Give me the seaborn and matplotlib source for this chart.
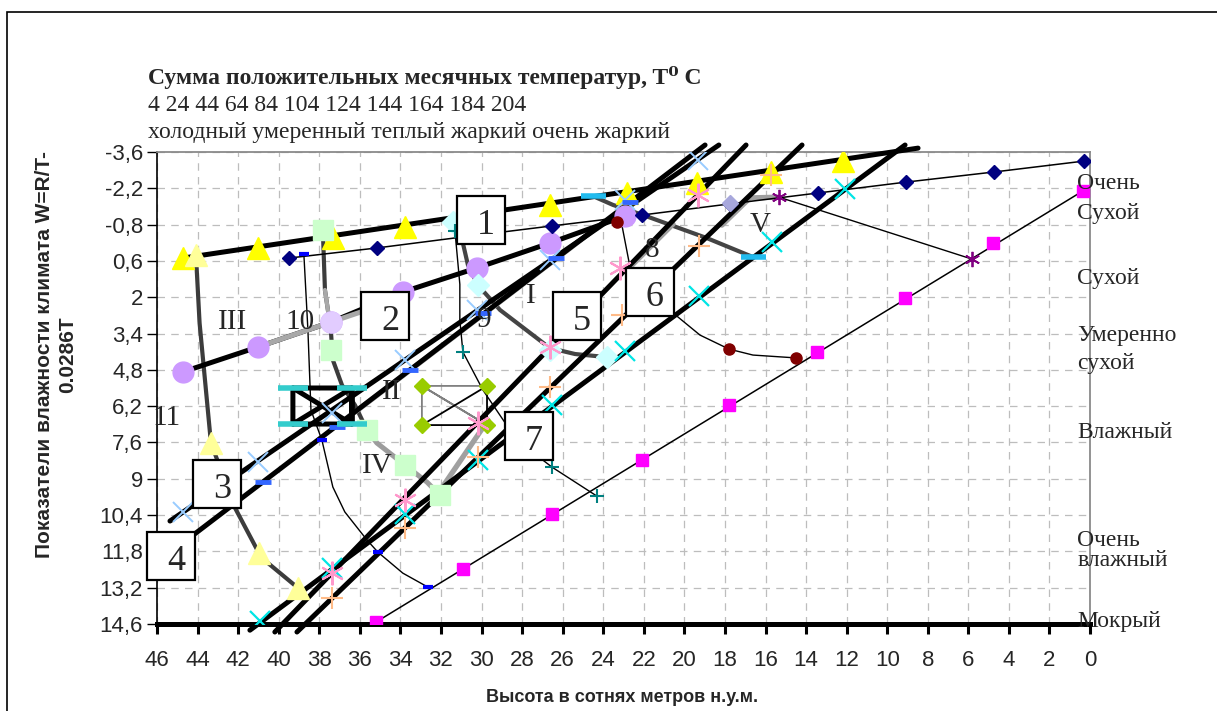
"""Климатическая диаграмма: показатель влажности W против высоты (зоны I-V, 1-11)."""
import matplotlib
matplotlib.use("Agg")
import matplotlib.pyplot as plt
from matplotlib.patches import Rectangle
import seaborn as sns

sns.set_theme(style="white")
plt.rcParams["font.family"] = ["Liberation Sans", "DejaVu Sans"]
SERIF = ["Liberation Serif", "DejaVu Serif"]

# ── Оси и подписи ──
X_TICKS = list(range(46, -1, -2))
Y_TICKS = [-3.6, -2.2, -0.8, 0.6, 2, 3.4, 4.8, 6.2, 7.6, 9, 10.4, 11.8, 13.2, 14.6]
Y_TICK_LABELS = ["-3,6", "-2,2", "-0,8", "0,6", "2", "3,4", "4,8", "6,2",
                 "7,6", "9", "10,4", "11,8", "13,2", "14,6"]
TITLE = "Сумма положительных месячных температур, T\u2070 C"
TEMP_SCALE = "4 24 44 64 84 104 124 144 164 184 204"
HEAT_ZONES = "холодный умеренный теплый жаркий очень жаркий"
XLABEL = "Высота в сотнях метров н.у.м."
YLABEL = "Показатели влажности климата W=R/T-\n0.0286T"

HUMID_LABELS = ["Очень", "Сухой", "Сухой", "Умеренно", "сухой", "Влажный",
                "Очень", "влажный", "Мокрый"]
HUMID_Y = [-2.4, -1.21, 1.26, 3.46, 4.54, 7.2, 11.4, 12.17, 14.49]

BOX_LABELS = ["1", "2", "3", "4", "5", "6", "7"]
BOX_X = [30.03, 34.76, 43.05, 45.32, 25.30, 21.70, 27.66]
BOX_Y = [-0.98, 2.72, 9.20, 11.98, 2.72, 1.80, 7.35]

ZONE_LABELS = ["III", "10", "11", "II", "IV", "I", "9", "8", "V"]
ZONE_X = [42.26, 38.95, 45.51, 34.42, 35.16, 27.56, 29.88, 21.60, 16.27]
ZONE_Y = [2.96, 2.96, 6.66, 5.66, 8.51, 1.95, 2.88, 0.18, -0.78]

# ── Серии ──
# верхняя граница (желтые треугольники)
tri_x = [44.72, 41.03, 37.33, 33.78, 26.63, 22.83, 19.38, 15.73, 12.18]
tri_y = [0.49, 0.10, -0.28, -0.71, -1.56, -2.02, -2.40, -2.83, -3.25]
top_x = [44.72, 8.48]
top_y = [0.49, -3.75]

# кривая III (бледные треугольники)
c3_x = [44.08, 43.90, 43.34, 42.15, 40.98, 40.53, 39.05]
c3_y = [0.37, 3.00, 7.62, 10.13, 11.86, 12.25, 13.21]
pale_tri_x = [44.08, 43.34, 40.98, 39.05]
pale_tri_y = [0.37, 7.62, 11.86, 13.21]

# линия 2 (сиреневые круги)
circ_x = [44.72, 41.03, 37.43, 33.88, 30.23, 26.63, 22.93]
circ_y = [4.88, 3.92, 2.96, 1.80, 0.87, -0.09, -1.13]
circ_pale_x = [41.03, 37.43, 35.50]
circ_pale_y = [3.92, 2.96, 2.45]

# темно-синие ромбы
navy_x = [39.50, 35.16, 30.97, 26.53, 22.09, 17.75, 13.41, 9.07, 4.73, 0.30]
navy_y = [0.49, 0.10, -0.32, -0.75, -1.17, -1.60, -2.02, -2.44, -2.83, -3.25]

# малиновые квадраты
mag_x = [35.21, 30.92, 26.53, 22.09, 17.80, 13.46, 9.12, 4.78, 0.35]
mag_y = [14.53, 12.48, 10.36, 8.28, 6.16, 4.11, 2.03, -0.09, -2.10]
mag_line_x = [36.14, 35.21, 0.35]
mag_line_y = [14.99, 14.53, -2.10]

# толстые диагонали
d1_x, d1_y = [45.36, 18.30], [10.63, -3.87]
d2_x, d2_y = [44.28, 18.98], [11.21, -3.87]
d3_x, d3_y = [41.42, 9.12], [14.84, -3.87]
d4_x, d4_y = [39.10, 14.20], [14.91, -3.87]
d5_x, d5_y = [40.19, 16.96], [14.91, -3.87]

lblue_x = [44.72, 41.03, 37.38, 33.78, 30.23, 26.63, 22.93, 19.33]
lblue_y = [10.28, 8.36, 6.47, 4.42, 2.49, 0.57, -1.75, -3.29]
bdash_x = [40.78, 37.13, 33.53, 29.93, 26.33, 22.68]
bdash_y = [9.13, 7.01, 4.81, 2.61, 0.49, -1.67]
cyanx_x = [40.93, 37.38, 33.78, 30.18, 26.53, 22.93, 19.28, 15.68, 12.08]
cyanx_y = [14.50, 12.45, 10.36, 8.28, 6.17, 4.08, 1.97, -0.12, -2.16]
orange_x = [37.38, 33.78, 30.18, 26.63, 23.08, 19.28, 15.73]
orange_y = [13.60, 10.90, 8.16, 5.46, 2.69, 0.03, -2.71]
pink_x = [37.38, 33.78, 30.18, 26.63, 23.18, 19.33]
pink_y = [12.64, 9.82, 6.85, 3.92, 0.87, -1.94]

# кривая I (светло-голубые ромбы)
c1_x = [30.92, 30.67, 30.18, 29.09, 26.63, 25.39, 23.82]
c1_y = [-0.09, 0.76, 1.53, 2.49, 3.96, 4.19, 4.31]
lcyan_x = [31.41, 30.18, 26.63, 23.82]
lcyan_y = [-0.90, 1.53, 4.04, 4.31]

# кривая 8 / V
c2_x = [24.51, 23.52, 22.04, 18.89, 16.62]
c2_y = [-1.90, -1.56, -1.17, -0.28, 0.45]
sky_x = [24.51, 16.62]
sky_y = [-1.90, 0.45]

# кривая 10 и IV (светло-зеленые квадраты)
c10_x = [37.82, 37.72, 37.43, 37.33, 36.88, 36.24, 35.65]
c10_y = [-0.51, 1.72, 3.26, 4.42, 5.39, 6.16, 7.12]
c10_pale_x = [37.72, 37.43]
c10_pale_y = [1.72, 3.26]
c4_x = [35.65, 35.16, 33.78, 32.69, 32.05]
c4_y = [7.12, 7.62, 8.47, 9.13, 9.63]
gsq_x = [37.82, 37.43, 35.65, 33.78, 32.05]
gsq_y = [-0.59, 4.04, 7.12, 8.47, 9.63]

# серые пунктирные границы
g1_x, g1_y = [36.24, 24.65], [6.43, -0.48]
g2_x, g2_y = [22.68, 20.56], [0.84, -0.82]
g3_x, g3_y = [18.15, 16.77, 15.34], [-0.78, -1.83, -1.86]
g4_x, g4_y = [32.20, 29.68], [9.63, 6.74]

# прямоугольник с желто-зелеными ромбами
gd_x = [32.94, 29.73, 32.94, 29.73]
gd_y = [5.42, 5.42, 6.93, 6.93]
gd_gray_x = [29.73, 32.94, 29.73, 32.94, 32.94]
gd_gray_y = [5.42, 5.42, 6.93, 5.42, 6.93]
gd_black_x = [32.94, 29.73, 29.73, 32.94]
gd_black_y = [6.93, 5.42, 6.93, 6.93]

# кривая 9
c9_x = [31.31, 31.07, 31.07, 30.92, 29.93, 28.60, 27.61, 26.53, 24.31]
c9_y = [-0.55, 1.50, 2.88, 4.11, 5.58, 7.12, 7.90, 8.55, 9.67]
teal_x = [31.31, 30.92, 26.53, 24.31]
teal_y = [-0.55, 4.11, 8.55, 9.67]

# тонкая кривая 10
c10t_x = [38.76, 38.56, 38.41, 37.87, 37.33, 36.74, 35.65, 35.11, 33.88, 32.64]
c10t_y = [0.33, 3.26, 6.35, 7.51, 9.32, 10.28, 11.36, 11.83, 12.64, 13.18]
blue_x = [38.76, 37.87, 35.11, 32.64]
blue_y = [0.33, 7.51, 11.83, 13.18]

# темно-красные круги
red_x = [23.32, 23.08, 22.68, 20.32, 19.23, 17.80, 16.62, 14.50]
red_y = [-0.90, -0.78, 0.84, 2.76, 3.46, 4.00, 4.23, 4.34]
redc_x = [23.32, 17.80, 14.50]
redc_y = [-0.90, 4.00, 4.34]

# фиолетовые звездочки
past_x, past_y = [15.34, 5.82], [-1.86, 0.53]
lav_x, lav_y = [17.75], [-1.63]

# прямоугольник с крестом
xb_x = [39.30, 36.39, 36.39, 39.30, 39.30, 36.39, 36.39, 39.30]
xb_y = [5.50, 5.50, 6.89, 6.89, 5.50, 6.89, 5.50, 6.89]
xb_dash_x = [39.30, 36.39, 39.30, 36.39]
xb_dash_y = [5.50, 5.50, 6.89, 6.89]

fig = plt.figure(figsize=(12.17, 7.11), dpi=100)
ax = fig.add_axes([0.1290, 0.1224, 0.7667, 0.6638])


def draw(xs, ys, **kw):
    sns.lineplot(x=xs, y=ys, sort=False, estimator=None, ax=ax, legend=False, **kw)


def dots(xs, ys, marker, size, color, edge=None, mew=1.0, z=6):
    draw(xs, ys, ls="none", marker=marker, ms=size, mfc=color,
         mec=edge or color, mew=mew, zorder=z)


BLACK_W = 3.6
# серые и темно-серые кривые
draw(c3_x, c3_y, color="#3c3c3c", lw=3.0, zorder=2)
draw(c1_x, c1_y, color="#444444", lw=3.0, zorder=2)
draw(c2_x, c2_y, color="#444444", lw=3.0, zorder=2)
draw(c10_x, c10_y, color="#3c3c3c", lw=3.0, zorder=2)
draw(c10_pale_x, c10_pale_y, color="#a8a8a8", lw=3.0, zorder=2)
draw(c4_x, c4_y, color="#9c9c9c", lw=3.6, zorder=2)
for gx, gy in [(g1_x, g1_y), (g2_x, g2_y), (g3_x, g3_y), (g4_x, g4_y)]:
    draw(gx, gy, color="#a0a0a0", lw=3.8, zorder=2)

# тонкие линии
draw(navy_x, navy_y, color="black", lw=1.1, zorder=3)
draw(mag_line_x, mag_line_y, color="black", lw=1.1, zorder=3)
draw(c9_x, c9_y, color="black", lw=1.0, zorder=3)
draw(c10t_x, c10t_y, color="black", lw=1.0, zorder=3)
draw(red_x, red_y, color="black", lw=1.0, zorder=3)
draw(past_x, past_y, color="black", lw=1.0, zorder=3)
draw(gd_gray_x, gd_gray_y, color="#808080", lw=1.3, zorder=3)
draw(gd_black_x, gd_black_y, color="black", lw=1.3, zorder=3)

# толстые черные линии
draw(top_x, top_y, color="black", lw=BLACK_W, zorder=4, clip_on=False)
draw(circ_x, circ_y, color="black", lw=BLACK_W, zorder=4)
draw(circ_pale_x, circ_pale_y, color="#a8a8a8", lw=BLACK_W, zorder=4)
for lx, ly in [(d1_x, d1_y), (d2_x, d2_y), (d3_x, d3_y), (d4_x, d4_y), (d5_x, d5_y)]:
    draw(lx, ly, color="black", lw=BLACK_W, zorder=4, clip_on=False)
draw(xb_x, xb_y, color="black", lw=BLACK_W, zorder=4)

# маркеры
dots(tri_x, tri_y, "^", 16, "#ffff00")
dots(pale_tri_x, pale_tri_y, "^", 16, "#ffff99")
dots(circ_x, circ_y, "o", 15, "#cc99ff")
dots([37.43], [2.96], "o", 15, "#e2ccff")
dots(navy_x, navy_y, "D", 7.5, "#000080")
dots(mag_x, mag_y, "s", 8.5, "#ff00ff")
dots(gsq_x, gsq_y, "s", 15, "#ccffcc")
dots(lcyan_x, lcyan_y, "D", 11, "#ccffff")
dots(gd_x, gd_y, "D", 8, "#99cc00")
dots(redc_x, redc_y, "o", 8, "#800000")
dots(lav_x, lav_y, "D", 8, "#a8a8dc")
dots(lblue_x, lblue_y, "x", 15, "#99ccff", mew=1.4, z=7)
dots(cyanx_x, cyanx_y, "x", 15, "#00e5e5", mew=1.6, z=7)
dots(orange_x, orange_y, "+", 16, "#ffbb88", mew=1.5, z=7)
dots(pink_x, pink_y, (6, 2, 0), 17, "#ff99cc", mew=1.5, z=7)
dots(past_x, past_y, (6, 2, 0), 11, "#800080", mew=1.3, z=7)
dots(teal_x, teal_y, "+", 10, "#008080", mew=1.5, z=7)
dots(bdash_x, bdash_y, "_", 11, "#3366ff", mew=3.5, z=7)
dots(blue_x, blue_y, "_", 7, "#0000ff", mew=3.0, z=7)
dots(sky_x, sky_y, "_", 18, "#22bbee", mew=4.0, z=7)
dots(xb_dash_x, xb_dash_y, "_", 22, "#33cccc", mew=4.0, z=7)

# подписи в рамках
BOX_W, BOX_H = 2.35, 1.85
for lab, bx, by in zip(BOX_LABELS, BOX_X, BOX_Y):
    ax.add_patch(Rectangle((bx - BOX_W / 2, by - BOX_H / 2), BOX_W, BOX_H,
                           facecolor="white", edgecolor="black", lw=1.6,
                           zorder=10, clip_on=False))
    ax.text(bx - 0.25, by + 0.2, lab, family=SERIF, fontsize=26,
            ha="center", va="center", zorder=11, clip_on=False)

for lab, zx, zy in zip(ZONE_LABELS, ZONE_X, ZONE_Y):
    ax.text(zx, zy, lab, family=SERIF, fontsize=21, ha="center", va="center", zorder=9)

for lab, hy in zip(HUMID_LABELS, HUMID_Y):
    ax.text(0.64, hy, lab, family=SERIF, fontsize=17, ha="left", va="center",
            clip_on=False, zorder=9)

# оформление осей
ax.set_xlim(46, 0)
ax.set_ylim(14.6, -3.6)
ax.set_xticks(X_TICKS)
ax.set_xticklabels([str(t) for t in X_TICKS])
ax.set_yticks(Y_TICKS)
ax.set_yticklabels(Y_TICK_LABELS)
ax.grid(True, color="#bdbdbd", linestyle=(0, (6, 5)), lw=0.9)
ax.set_axisbelow(True)
ax.tick_params(axis="x", direction="out", length=7, width=2.2, color="black",
               labelsize=16, pad=12, bottom=True)
ax.tick_params(axis="y", direction="out", length=7, width=1.0, color="black",
               labelsize=16, pad=3, left=True)
for side in ["top", "right"]:
    ax.spines[side].set_color("#8a8a8a")
    ax.spines[side].set_linewidth(1.3)
ax.spines["left"].set_color("black")
ax.spines["left"].set_linewidth(1.2)
ax.spines["bottom"].set_color("black")
ax.spines["bottom"].set_linewidth(3.6)
ax.spines["bottom"].set_zorder(5)

# заголовки
fig.text(148 / 1217, 1 - 84 / 711, TITLE, family=SERIF, fontsize=17,
         fontweight="bold", va="baseline")
fig.text(148 / 1217, 1 - 111 / 711, TEMP_SCALE, family=SERIF, fontsize=17, va="baseline")
fig.text(148 / 1217, 1 - 138 / 711, HEAT_ZONES, family=SERIF, fontsize=17, va="baseline")
fig.text(622 / 1217, 1 - 697 / 711, XLABEL, fontsize=13, fontweight="bold",
         ha="center", va="center")
fig.text(56 / 1217, 1 - 355 / 711, YLABEL, fontsize=15, fontweight="bold",
         rotation=90, ha="center", va="center", multialignment="center",
         linespacing=1.3)

fig.add_artist(Rectangle((7 / 1217, -0.05), 1.1, 1 - 12 / 711 + 0.05,
                         transform=fig.transFigure, fill=False,
                         edgecolor="black", lw=1.2))

fig.savefig("out.png", dpi=100)
